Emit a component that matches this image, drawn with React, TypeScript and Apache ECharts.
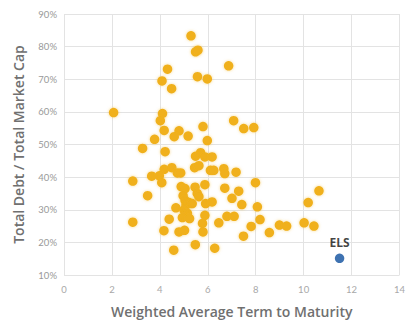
import React, { useEffect, useRef } from "react";
import * as echarts from "echarts";

// Weighted average term to maturity (years) for peers
const peerTerm: number[] = [
  2.07, 5.3, 5.49, 5.59, 6.87, 4.32, 4.09, 5.57, 5.98, 4.49,
  4.11, 4.02, 7.08, 7.5, 7.92, 5.8, 4.18, 4.8, 4.6, 5.18,
  3.78, 5.98, 3.28, 4.22, 5.49, 5.7, 5.88, 6.18, 5.45, 5.63,
  6.11, 6.25, 6.67, 6.71, 7.18, 4.18, 4.5, 4.73, 4.87, 3.66,
  3.98, 4.08, 2.87, 3.49, 7.99, 5.88, 6.71, 7.29, 7.01, 7.42,
  8.07, 10.64, 10.19, 5.91, 6.18, 4.67, 4.39, 2.87, 5.88, 6.8,
  7.1, 6.46, 5.78, 5.8, 8.18, 7.81, 7.49, 8.57, 8.99, 9.29,
  10.02, 10.43, 4.17, 4.8, 5.03, 4.58, 5.48, 6.29,
  4.89, 5.05, 5.47, 5.56, 5.63, 4.97, 5.05, 5.09, 5.22, 5.35,
  5.01, 5.15, 4.94, 5.24,
];
// Total debt / total market cap (%) for peers
const peerLeverage: number[] = [
  59.8, 83.3, 78.4, 78.9, 74.1, 73.1, 69.5, 70.8, 70.1, 67.1,
  59.5, 57.3, 57.3, 54.9, 55.2, 55.5, 54.3, 54.2, 52.4, 52.6,
  51.6, 51.2, 48.8, 47.8, 46.4, 47.5, 46.2, 46.2, 42.9, 43.5,
  42.1, 42.1, 42.6, 41.1, 41.5, 42.4, 42.9, 41.3, 41.3, 40.3,
  40.4, 38.3, 38.8, 34.3, 38.3, 37.7, 36.6, 35.7, 33.5, 31.6,
  30.9, 35.8, 32.2, 31.9, 32.4, 30.6, 27.1, 26.2, 28.3, 28.0,
  28.0, 26.0, 25.8, 23.2, 27.0, 24.9, 21.9, 23.0, 25.3, 25.0,
  26.0, 25.0, 23.6, 23.2, 23.7, 17.6, 19.3, 18.2,
  37.1, 36.5, 36.9, 35.0, 34.0, 34.3, 32.9, 31.4, 32.2, 31.9,
  29.9, 28.9, 27.6, 27.3,
];
const elsName = "ELS";
const elsTerm = 11.5;
const elsLeverage = 15.1;

const xTitle = "Weighted Average Term to Maturity";
const yTitle = "Total Debt / Total Market Cap";

export default function App() {
  const ref = useRef<HTMLDivElement>(null);
  useEffect(() => {
    if (!ref.current) return;
    const chart = echarts.init(ref.current, undefined, { renderer: "svg" });
    const peers = peerTerm.map((t, i) => [t, peerLeverage[i]]);
    chart.setOption({
      animation: false,
      grid: { left: 64, right: 6, top: 14, bottom: 49 },
      xAxis: {
        type: "value",
        min: 0,
        max: 14,
        interval: 2,
        name: xTitle,
        nameLocation: "middle",
        nameGap: 29,
        nameTextStyle: { color: "#707070", fontSize: 14, fontWeight: 600, fontFamily: "Open Sans" },
        axisLine: { show: false },
        axisTick: { show: false },
        axisLabel: { color: "#a8a8a8", fontSize: 9.5, margin: 9, fontFamily: "Lato" },
        splitLine: { show: true, lineStyle: { color: "#e3e3e3", width: 1 } },
      },
      yAxis: {
        type: "value",
        min: 10,
        max: 90,
        interval: 10,
        name: yTitle,
        nameLocation: "middle",
        nameGap: 39,
        nameTextStyle: { color: "#707070", fontSize: 14, fontWeight: 600, fontFamily: "Open Sans" },
        axisLine: { show: false },
        axisTick: { show: false },
        axisLabel: { color: "#999", fontSize: 9.5, margin: 7, formatter: "{value}%", fontFamily: "Lato" },
        splitLine: { show: true, lineStyle: { color: "#e3e3e3", width: 1 } },
      },
      series: [
        {
          type: "scatter",
          data: peers,
          symbolSize: 9.5,
          itemStyle: { color: "#F0B01A", opacity: 1, shadowBlur: 3, shadowColor: "rgba(240,176,26,0.5)" },
        },
        {
          type: "scatter",
          data: [[elsTerm, elsLeverage]],
          symbolSize: 9.5,
          itemStyle: { color: "#0E4F9E" },
          label: {
            show: true,
            position: "top",
            distance: 5,
            formatter: elsName,
            color: "#111",
            fontWeight: "bold",
            fontSize: 12,
            fontFamily: "Open Sans",
          },
        },
      ],
    });
    return () => chart.dispose();
  }, []);
  return (
    <div
      ref={ref}
      style={{ position: "fixed", left: 0, top: 0, width: 408, height: 324, background: "#fff" }}
    />
  );
}
